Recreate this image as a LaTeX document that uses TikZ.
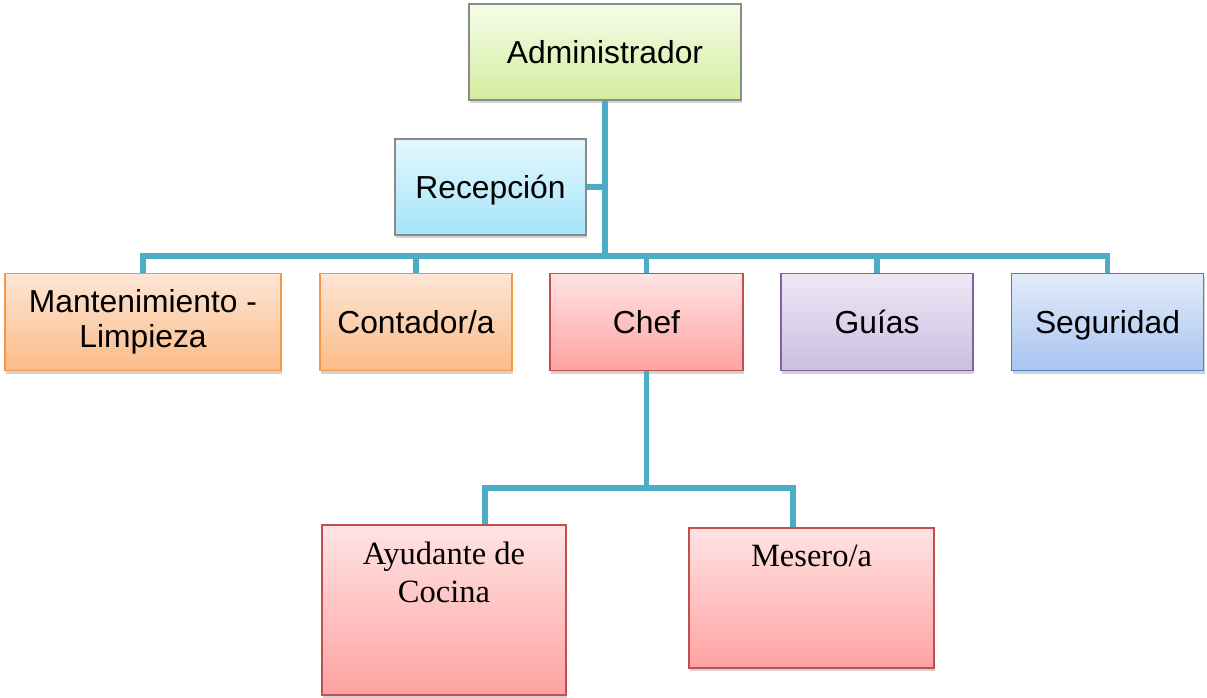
\documentclass[tikz,border=0pt]{standalone}
\usepackage{fontspec}
\setmainfont{Liberation Sans}
\newfontfamily\serifrm{Liberation Serif}
\usetikzlibrary{shadows}
\definecolor{conncol}{HTML}{4BACC6}
\definecolor{gborder}{HTML}{8A8A8A}
\definecolor{orborder}{HTML}{F79646}
\definecolor{rdborder}{HTML}{C0504D}
\definecolor{puborder}{HTML}{8064A2}
\definecolor{blborder}{HTML}{4F81BD}
\definecolor{gtop}{HTML}{F5FCE8}\definecolor{gbot}{HTML}{D3EE9E}
\definecolor{ctop}{HTML}{E4F8FE}\definecolor{cbot}{HTML}{A5E4F9}
\definecolor{otop}{HTML}{FDE6D5}\definecolor{obot}{HTML}{FBBB88}
\definecolor{rtop}{HTML}{FFE3E3}\definecolor{rbot}{HTML}{FFA2A2}
\definecolor{ptop}{HTML}{EEE8F5}\definecolor{pbot}{HTML}{CBBEE1}
\definecolor{btop}{HTML}{E2EBF9}\definecolor{bbot}{HTML}{A8C4F1}
\tikzset{
  box/.style={draw, line width=1.6pt, inner sep=0pt, align=center,
    font=\fontsize{31.8}{35}\selectfont,
    drop shadow={opacity=0.35, shadow xshift=1pt, shadow yshift=-3pt}},
  oneline/.style={text height=27pt, text depth=4pt},
  greenbox/.style={box, draw=gborder, top color=gtop, bottom color=gbot},
  cyanbox/.style={box, draw=gborder, top color=ctop, bottom color=cbot},
  orangebox/.style={box, draw=orborder, top color=otop, bottom color=obot},
  redbox/.style={box, draw=rdborder, top color=rtop, bottom color=rbot},
  purplebox/.style={box, draw=puborder, top color=ptop, bottom color=pbot},
  bluebox/.style={box, draw=blborder, top color=btop, bottom color=bbot},
  conn/.style={draw=conncol, line width=5.5pt, line join=miter}
}
\begin{document}
\begin{tikzpicture}[x=1pt,y=-1pt]
\useasboundingbox (0,0) rectangle (1207,698);
% top level
\node[greenbox, oneline, minimum width=272pt, minimum height=96pt] (adm) at (605,52) {Administrador};
\node[cyanbox, oneline, minimum width=191pt, minimum height=96pt] (rec) at (490.5,187) {Recepción};
% second row
\node[orangebox, minimum width=276pt, minimum height=97pt] (man) at (143,322) {Mantenimiento -\\Limpieza};
\node[orangebox, oneline, minimum width=192pt, minimum height=97pt] (con) at (416,322) {Contador/a};
\node[redbox, oneline, minimum width=193pt, minimum height=97pt] (chef) at (646.5,322) {Chef};
\node[purplebox, oneline, minimum width=192pt, minimum height=97pt] (gui) at (877,322) {Guías};
\node[bluebox, oneline, minimum width=192pt, minimum height=97pt] (seg) at (1107.5,322) {Seguridad};
% third row
\node[redbox] (ayu) at (444,610) {\parbox[c][170pt][t]{244pt}{\centering\vspace*{17pt}\serifrm\fontsize{32.5}{38}\selectfont Ayudante de\\Cocina}};
\node[redbox] (mes) at (811.5,598) {\parbox[c][140pt][t]{245pt}{\centering\vspace*{17pt}\serifrm\fontsize{32.5}{38}\selectfont Mesero/a}};
% junctions
\coordinate (bl) at (143,256);
\coordinate (ja) at (485,488);
\coordinate (jm) at (793,488);
% connectors
\draw[conn] (adm.south) -- (adm.south |- bl);
\draw[conn] (rec.east) -- (rec.east -| adm.south);
\draw[conn] (man.north) -- (man.north |- bl) -- (seg.north |- bl) -- (seg.north);
\draw[conn] (con.north) -- (con.north |- bl);
\draw[conn] (chef.north) -- (chef.north |- bl);
\draw[conn] (gui.north) -- (gui.north |- bl);
\draw[conn] (chef.south) -- (chef.south |- ja);
\draw[conn] (ayu.north -| ja) -- (ja) -- (jm) -- (mes.north -| jm);
\end{tikzpicture}
\end{document}
